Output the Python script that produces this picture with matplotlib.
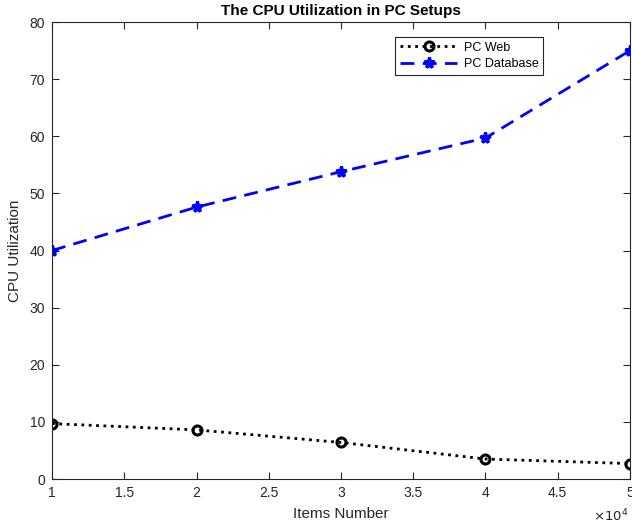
import matplotlib.pyplot as plt
from matplotlib.ticker import FuncFormatter

# dados
itens = [10000, 20000, 30000, 40000, 50000]
pc_web = [9.7, 8.6, 6.4, 3.5, 2.7]
pc_database = [40.0, 47.6, 53.8, 59.7, 75.0]

plt.rcParams['font.family'] = ['Liberation Sans', 'DejaVu Sans']
cinza = '#262626'

fig = plt.figure(figsize=(6.32, 5.25), dpi=100)
ax = fig.add_axes([0.0823, 0.0876, 0.9145, 0.8704])

ax.plot(itens, pc_web, color='black', linestyle=':', linewidth=2,
        marker='o', markersize=6.5, markeredgewidth=2.2, markerfacecolor='none',
        label='PC Web')
ax.plot(itens, pc_database, color='blue', linestyle='--', linewidth=2,
        marker='*', markersize=8, markeredgewidth=2.2,
        label='PC Database', dashes=(5, 3))

ax.set_xlim(10000, 50000)
ax.set_ylim(0, 80)
ax.set_xticks([10000, 15000, 20000, 25000, 30000, 35000, 40000, 45000, 50000])
ax.xaxis.set_major_formatter(FuncFormatter(lambda v, p: '%g' % (v / 1e4)))
ax.set_yticks(range(0, 81, 10))

for s in ax.spines.values():
    s.set_color(cinza)
    s.set_linewidth(0.8)
ax.tick_params(direction='in', top=True, right=True, length=5, width=0.8,
               colors=cinza, labelsize=10, pad=5)

ax.set_xlabel('Items Number', fontsize=11, color=cinza, labelpad=5)
ax.set_ylabel('CPU Utilization', fontsize=11, color=cinza, labelpad=5)
ax.set_title('The CPU Utilization in PC Setups', fontsize=11, fontweight='bold',
             pad=5)
ax.text(0.997, -0.062, r'$\times10^4$', transform=ax.transAxes, ha='right',
        va='top', fontsize=9.5, color=cinza)

leg = ax.legend(loc='upper right', bbox_to_anchor=(0.85, 0.968), fontsize=9,
                frameon=True, fancybox=False, edgecolor=cinza, framealpha=1,
                handlelength=4.6, handletextpad=0.5, borderpad=0.4,
                labelspacing=0.35, borderaxespad=0)
leg.get_frame().set_linewidth(0.8)

plt.savefig('out.png', dpi=100)
